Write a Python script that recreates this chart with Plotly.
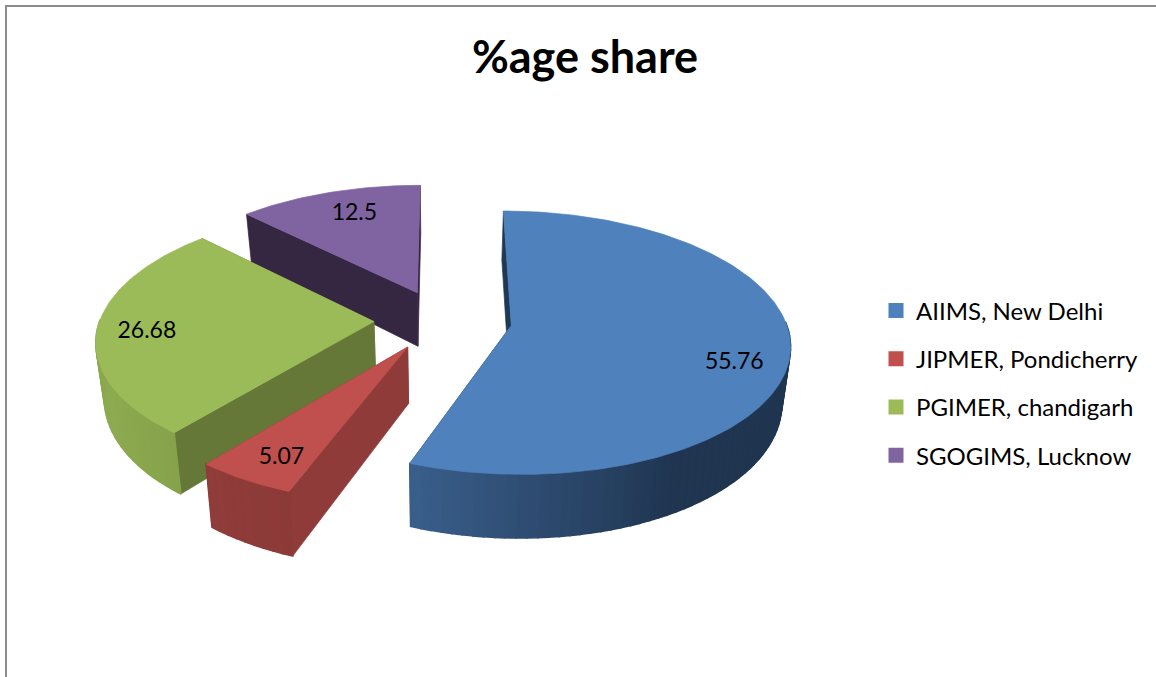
import math
import plotly.graph_objects as go

# ---- data ----
categories = ["AIIMS, New Delhi", "JIPMER, Pondicherry", "PGIMER, chandigarh", "SGOGIMS, Lucknow"]
values = [55.76, 5.07, 26.68, 12.5]
value_labels = ["55.76", "5.07", "26.68", "12.5"]
title_text = "%age share"

# ---- style ----
colors = ["#4f81bd", "#c0504d", "#9bbb59", "#8064a2"]
radial_wall = ["#1f3854", "#8f3b39", "#667838", "#352741"]
# (angle, colour) stops along each slice's rim
rim_stops = [
    [(100, "#1f3550"), (150, "#1f3550"), (201, "#3a5f8c")],
    [(200, "#8c3a38"), (219, "#8f3c3a")],
    [(219, "#86a34b"), (245, "#8dab50"), (262, "#8aa84e")],
    [(315, "#352741"), (360, "#352741")],
]

W, H = 1156, 677
CX, CY = 443.0, 320.0     # pie centre in pixels
RX, RY = 274.0, 128.0     # radii
EXPLODE_X, EXPLODE_Y = 0.252, 0.237   # slice pull-out, fraction of radius
PERSP = 0.13              # perspective strength
THICK = 55.0              # pie thickness
BOTTOM_SCALE = 0.975      # lower rim is slightly further away

# label placement (angle in degrees, radial fraction)
label_pos = [(110, 0.82), (207.8, 0.84), (264.3, 0.82), (339.4, 0.756)]


def project(wx, wy, bottom=False):
    s = 1.0 / (1.0 + PERSP * wy)
    sx = CX + RX * wx * s * (BOTTOM_SCALE if bottom else 1.0)
    sy = CY - RY * wy * s + (THICK * s if bottom else 0.0)
    return sx, sy


def hex_mix(a, b, f):
    pa = [int(a[i:i + 2], 16) for i in (1, 3, 5)]
    pb = [int(b[i:i + 2], 16) for i in (1, 3, 5)]
    return "#" + "".join(f"{round(x + (y - x) * f):02x}" for x, y in zip(pa, pb))


def rim_color(stops, t):
    if t <= stops[0][0]:
        return stops[0][1]
    for (t0, c0), (t1, c1) in zip(stops, stops[1:]):
        if t <= t1:
            return hex_mix(c0, c1, (t - t0) / (t1 - t0))
    return stops[-1][1]


fig = go.Figure()


def poly(pts, color, lw=0.7):
    xs = [p[0] for p in pts] + [pts[0][0]]
    ys = [p[1] for p in pts] + [pts[0][1]]
    fig.add_trace(go.Scatter(x=xs, y=ys, mode="lines", fill="toself", fillcolor=color,
                             line=dict(color=color, width=lw), hoverinfo="skip", showlegend=False))


total = sum(values)
spans = []
a = 0.0
for v in values:
    spans.append((a, a + v / total * 360.0))
    a = spans[-1][1]

# back-to-front: purple, green, red, blue
label_xy = {}
for i in [3, 2, 1, 0]:
    t0, t1 = spans[i]
    mid = math.radians((t0 + t1) / 2)
    ax, ay = EXPLODE_X * math.sin(mid), EXPLODE_Y * math.cos(mid)

    def rim(t):
        r = math.radians(t)
        return ax + math.sin(r), ay + math.cos(r)

    # radial walls
    for t in (t0, t1):
        wx, wy = rim(t)
        poly([project(ax, ay), project(wx, wy), project(wx, wy, True), project(ax, ay, True)],
             radial_wall[i])
    # outer rim, front-facing part only
    n = max(2, int((t1 - t0) / 2))
    for k in range(n):
        ta = t0 + (t1 - t0) * k / n
        tb = t0 + (t1 - t0) * (k + 1) / n
        if math.cos(math.radians((ta + tb) / 2)) > 0.02:
            continue
        pa, pb = rim(ta), rim(tb)
        poly([project(*pa), project(*pb), project(*pb, True), project(*pa, True)],
             rim_color(rim_stops[i], (ta + tb) / 2), lw=1.6)
    # top face
    n = int(t1 - t0) + 1
    top = [project(ax, ay)] + [project(*rim(t0 + (t1 - t0) * k / n)) for k in range(n + 1)]
    poly(top, colors[i])
    # label anchor
    lt, lf = label_pos[i]
    lr = math.radians(lt)
    label_xy[i] = project(ax + lf * math.sin(lr), ay + lf * math.cos(lr))

# value labels
fig.add_trace(go.Scatter(
    x=[label_xy[i][0] for i in range(4)], y=[label_xy[i][1] for i in range(4)],
    mode="text", text=value_labels, textposition="middle center",
    textfont=dict(family="Lato", size=23, color="#000000"),
    hoverinfo="skip", showlegend=False))

# legend entries
for i, name in enumerate(categories):
    fig.add_trace(go.Scatter(x=[None], y=[None], mode="markers", name=name, legendgroup=name,
                             marker=dict(symbol="square", size=15, color=colors[i])))

fig.update_layout(
    width=W, height=H, autosize=False,
    margin=dict(l=0, r=0, t=0, b=0),
    paper_bgcolor="#ffffff", plot_bgcolor="#ffffff",
    title=dict(text=f"<b>{title_text}</b>", x=585 / W, y=1 - 57 / H, xref="paper", yref="paper",
               xanchor="center", yanchor="middle",
               font=dict(family="Lato", size=45, color="#000000")),
    xaxis=dict(range=[0, W], visible=False, fixedrange=True),
    yaxis=dict(range=[H, 0], visible=False, fixedrange=True),
    legend=dict(x=876 / W, y=1 - 383 / H, xanchor="left", yanchor="middle", tracegroupgap=14,
                font=dict(family="Lato", size=24, color="#000000"), bgcolor="rgba(0,0,0,0)",
                itemclick=False, itemdoubleclick=False),
    shapes=[
        dict(type="line", xref="x", yref="y", x0=6, x1=6, y0=5, y1=H, line=dict(color="#8c8c8c", width=2)),
        dict(type="line", xref="x", yref="y", x0=5, x1=W, y0=6, y1=6, line=dict(color="#8c8c8c", width=2)),
    ],
)

fig.write_html("out.html", config=dict(displayModeBar=False),
               post_script="document.body.style.margin='0';document.body.style.overflow='hidden';")
